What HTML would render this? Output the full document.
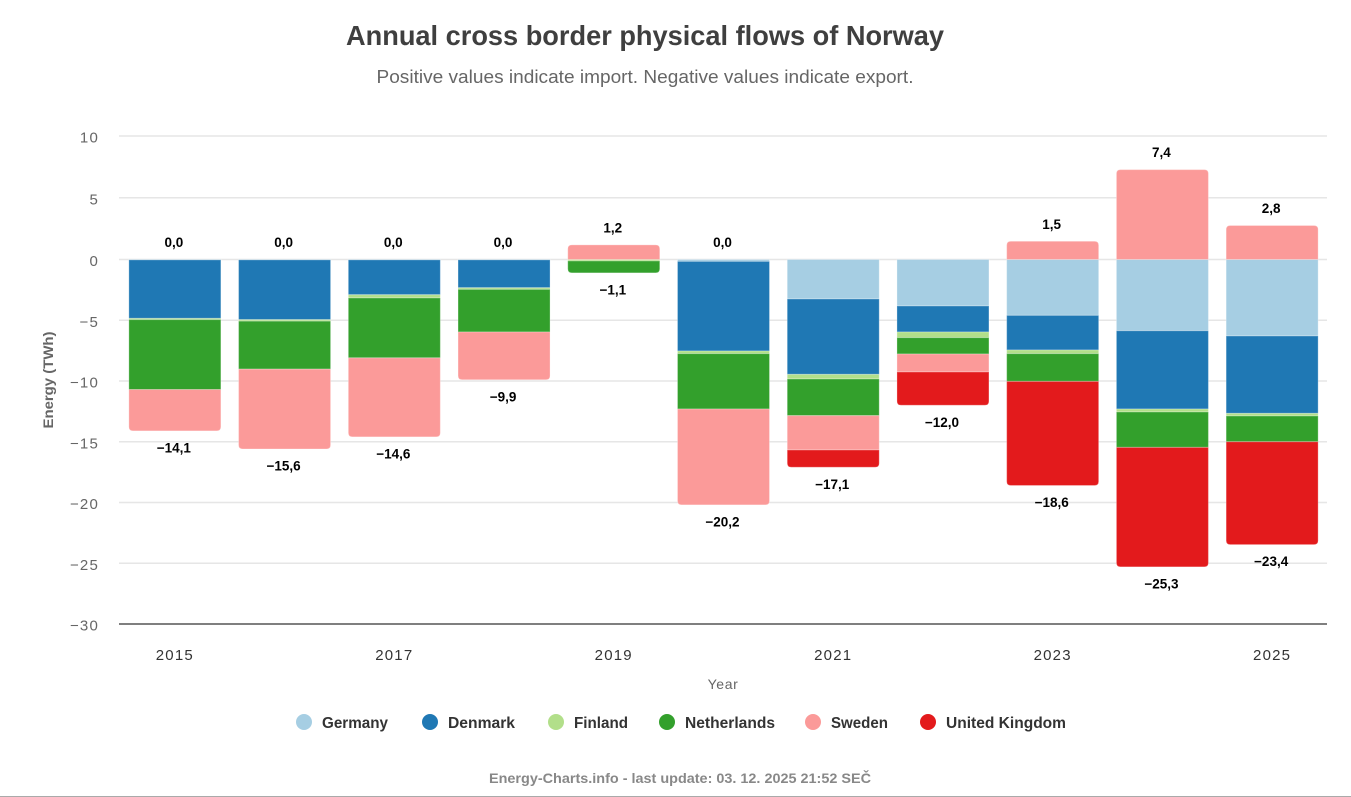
<!DOCTYPE html>
<html lang="en">
<head>
<meta charset="utf-8">
<title>Annual cross border physical flows of Norway</title>
<style>
html,body{margin:0;padding:0;background:#fff;width:1351px;height:797px;overflow:hidden}
svg{display:block;font-family:"Liberation Sans",sans-serif}
</style>
</head>
<body>
<svg id="chart" xmlns="http://www.w3.org/2000/svg" width="1351" height="797" viewBox="0 0 1351 797">
  <text x="645" y="45" text-anchor="middle" font-size="28" font-weight="700" fill="#3f3f3f" textLength="598" lengthAdjust="spacingAndGlyphs">Annual cross border physical flows of Norway</text>
  <text x="645" y="83" text-anchor="middle" font-size="18" fill="#666666" textLength="537" lengthAdjust="spacingAndGlyphs">Positive values indicate import. Negative values indicate export.</text>
  <g id="grid"></g>
  <g id="yticks"></g>
  <g id="bars"></g>
  <g id="totals"></g>
  <g id="xticks"></g>
  <text transform="translate(53,380) rotate(-90)" text-anchor="middle" font-size="14" font-weight="700" fill="#666666" textLength="97" lengthAdjust="spacingAndGlyphs">Energy (TWh)</text>
  <text x="723" y="689" text-anchor="middle" font-size="14" fill="#666666" letter-spacing="0.6">Year</text>
  <g id="legend"></g>
  <text x="680" y="783" text-anchor="middle" font-size="14" font-weight="700" fill="#888888" textLength="382" lengthAdjust="spacingAndGlyphs">Energy-Charts.info - last update: 03. 12. 2025 21:52 SEČ</text>
  <rect x="0" y="796" width="1351" height="1" fill="#aaaaaa"></rect>
</svg>
<script>
var years = [2015, 2016, 2017, 2018, 2019, 2020, 2021, 2022, 2023, 2024, 2025];
var germany = [-0.03, -0.03, -0.03, -0.03, 0, -0.15, -3.25, -3.83, -4.6, -5.86, -6.3];
var denmark = [-4.82, -4.92, -2.87, -2.29, 0, -7.38, -6.2, -2.14, -2.85, -6.44, -6.36];
var finland = [-0.1, -0.12, -0.27, -0.14, -0.12, -0.22, -0.39, -0.46, -0.3, -0.25, -0.22];
var netherlands = [-5.75, -3.95, -4.93, -3.51, -0.98, -4.55, -3.01, -1.35, -2.28, -2.91, -2.12];
var sweden = [-3.4, -6.58, -6.5, -3.93, 1.2, -7.9, -2.83, -1.48, 1.5, 7.4, 2.8];
var unitedKingdom = [0, 0, 0, 0, 0, 0, -1.42, -2.74, -8.57, -9.84, -8.47];
var seriesNames = ["Germany", "Denmark", "Finland", "Netherlands", "Sweden", "United Kingdom"];
var seriesColors = ["#a6cee3", "#1f78b4", "#b2df8a", "#33a02c", "#fb9a99", "#e31a1c"];
var positiveTotals = ["0,0", "0,0", "0,0", "0,0", "1,2", "0,0", "", "", "1,5", "7,4", "2,8"];
var negativeTotals = ["−14,1", "−15,6", "−14,6", "−9,9", "−1,1", "−20,2", "−17,1", "−12,0", "−18,6", "−25,3", "−23,4"];
var yTicks = [10, 5, 0, -5, -10, -15, -20, -25, -30];
var yTickLabels = ["10", "5", "0", "−5", "−10", "−15", "−20", "−25", "−30"];
var xTickLabels = ["2015", "", "2017", "", "2019", "", "2021", "", "2023", "", "2025"];

var NS = "http://www.w3.org/2000/svg";
var plotLeft = 120, plotRight = 1327, zeroY = 259.5, unitPx = 12.15, barWidth = 92;
var allSeries = [germany, denmark, finland, netherlands, sweden, unitedKingdom];

function yScale(v) { return zeroY - v * unitPx; }
function gridY(t) { return t > 0 ? zeroY - t * 12.35 : yScale(t); }
function xCenter(i) { return plotLeft + (plotRight - plotLeft) / years.length * (i + 0.5); }
function make(tag, attrs, parent) {
  var el = document.createElementNS(NS, tag);
  for (var k in attrs) { el.setAttribute(k, attrs[k]); }
  parent.appendChild(el);
  return el;
}
function segmentPath(x, w, y1, y2, roundTop, roundBottom) {
  var r = Math.min(4, Math.abs(y2 - y1));
  var rt = roundTop ? r : 0, rb = roundBottom ? r : 0;
  return "M" + (x + rt) + "," + y1 + "H" + (x + w - rt) +
    "Q" + (x + w) + "," + y1 + " " + (x + w) + "," + (y1 + rt) +
    "V" + (y2 - rb) + "Q" + (x + w) + "," + y2 + " " + (x + w - rb) + "," + y2 +
    "H" + (x + rb) + "Q" + x + "," + y2 + " " + x + "," + (y2 - rb) +
    "V" + (y1 + rt) + "Q" + x + "," + y1 + " " + (x + rt) + "," + y1 + "Z";
}

var gridGroup = document.getElementById("grid");
var yTickGroup = document.getElementById("yticks");
yTicks.forEach(function (t, i) {
  var isBase = t === -30;
  var line = make("rect", { x: plotLeft - 1, y: gridY(t) - 0.75, width: plotRight - plotLeft + 1, height: 1.5, fill: isBase ? "#555555" : "#e6e6e6" }, gridGroup);
  
  
  var label = make("text", { x: 99, y: gridY(t) + 6.5, "text-anchor": "end", "font-size": 15, fill: "#666666", "letter-spacing": "1.2" }, yTickGroup);
  label.textContent = yTickLabels[i];
  
  
});

var barGroup = document.getElementById("bars");
var totalGroup = document.getElementById("totals");
var xTickGroup = document.getElementById("xticks");
years.forEach(function (year, i) {
  var cx = xCenter(i), x = cx - barWidth / 2;
  var posSum = 0, negSum = 0, lastNeg = -1, lastPos = -1;
  allSeries.forEach(function (s, k) {
    if (s[i] < 0) { lastNeg = k; }
    if (s[i] > 0) { lastPos = k; }
  });
  allSeries.forEach(function (s, k) {
    var v = s[i];
    if (!v) { return; }
    var from, to, path;
    if (v > 0) {
      from = posSum; posSum += v; to = posSum;
      path = segmentPath(x, barWidth, yScale(to), yScale(from), k === lastPos, false);
    } else {
      from = negSum; negSum += v; to = negSum;
      path = segmentPath(x, barWidth, yScale(from), yScale(to), false, k === lastNeg);
    }
    var seg = make("path", { d: path, fill: seriesColors[k], stroke: "#ffffff", "stroke-opacity": "0.28", "stroke-width": "1" }, barGroup);
    
    
  });
  if (positiveTotals[i]) {
    var top = make("text", { x: cx - 1, y: yScale(posSum) - 12.5, "text-anchor": "middle", "font-size": 13.5, "font-weight": 700, fill: "#000000" }, totalGroup);
    top.textContent = positiveTotals[i];
    
    
  }
  var bottom = make("text", { x: cx - 1, y: yScale(negSum) + 21.5, "text-anchor": "middle", "font-size": 13.5, "font-weight": 700, fill: "#000000" }, totalGroup);
  bottom.textContent = negativeTotals[i];
  
  
  if (xTickLabels[i]) {
    var xt = make("text", { x: cx, y: 660, "text-anchor": "middle", "font-size": 15, fill: "#333333", "letter-spacing": "1.2" }, xTickGroup);
    xt.textContent = xTickLabels[i];
    
    
  }
});

var legendGroup = document.getElementById("legend");
var legendMarkerX = [304, 430, 556, 667, 813, 928];
var legendTextWidth = [66, 67, 54, 90, 57, 120];
seriesNames.forEach(function (name, k) {
  var entry = make("g", {}, legendGroup);
  
  
  entry.style.cursor = "pointer";
  var dot = make("circle", { cx: legendMarkerX[k], cy: 722, r: 8, fill: seriesColors[k] }, entry);
  
  
  var text = make("text", { x: legendMarkerX[k] + 18, y: 728, "font-size": 16, "font-weight": 700, fill: "#333333", textLength: legendTextWidth[k], lengthAdjust: "spacingAndGlyphs" }, entry);
  text.textContent = name;
  
  
});
</script>
</body>
</html>
